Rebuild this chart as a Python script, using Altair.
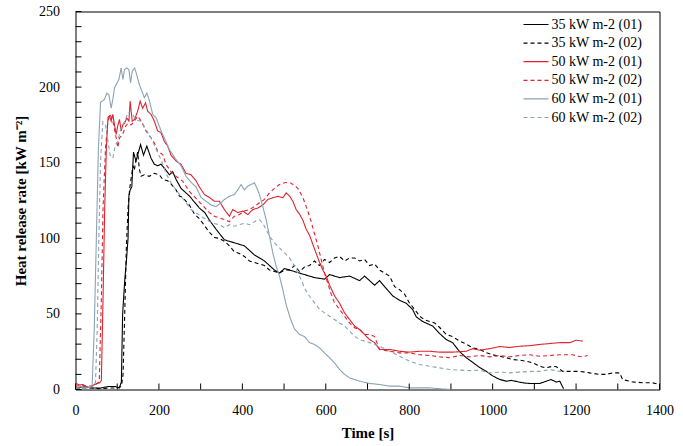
import altair as alt
import pandas as pd

FONT = "Liberation Serif"

# ---- 35 kW m-2, test 01 (time [s], HRR [kW m-2])
t_35_01 = [0, 20, 40, 60, 80,
           95, 105, 110, 113, 118,
           122, 126, 128, 131, 135,
           139, 145, 150, 156, 163,
           171, 181, 189, 197, 205,
           217, 225, 233, 241, 253,
           261, 273, 285, 297, 310,
           321, 337, 357, 381, 405,
           429, 453, 477, 489, 501,
           525, 549, 573, 597, 609,
           633, 657, 681, 693, 717,
           729, 741, 760, 777, 793,
           808, 817, 832, 856, 873,
           889, 904, 921, 937, 952,
           969, 985, 1000, 1017, 1033,
           1045, 1073, 1089, 1113, 1140,
           1153, 1161, 1170]
v_35_01 = [1, 2, 1, 1, 2,
           2, 1, 5, 50, 72,
           85, 100, 128, 132, 134,
           157, 151, 156, 162, 155,
           161, 153, 149, 148, 149,
           145, 142, 144, 139, 133,
           131, 128, 124, 120, 117,
           112, 106, 99, 97, 95,
           89, 85, 79, 77, 80,
           78, 76, 74, 73, 76,
           74, 75, 72, 75, 69,
           72, 68, 62, 59, 57,
           53, 48, 45, 42, 37,
           33, 31, 25, 21, 18,
           14.5, 12, 9, 6.6, 5.5,
           6, 4.4, 4, 4, 6.6,
           4.9, 5.5, 0.5]

# ---- 35 kW m-2, test 02
t_35_02 = [0, 20, 40, 60, 80,
           100, 110, 114, 118, 122,
           126, 130, 134, 138, 141,
           145, 149, 153, 157, 165,
           177, 189, 201, 209, 221,
           229, 241, 249, 257, 273,
           285, 297, 305, 321, 333,
           345, 357, 369, 381, 393,
           405, 417, 429, 441, 453,
           465, 477, 489, 501, 513,
           525, 537, 549, 561, 573,
           585, 597, 609, 621, 633,
           645, 657, 669, 681, 693,
           705, 717, 729, 741, 753,
           765, 777, 789, 801, 813,
           825, 837, 849, 861, 873,
           889, 904, 921, 937, 952,
           969, 985, 1000, 1017, 1033,
           1048, 1065, 1080, 1096, 1113,
           1128, 1144, 1153, 1168, 1192,
           1208, 1232, 1256, 1272, 1288,
           1304, 1312, 1336, 1360, 1384,
           1400]
v_35_02 = [0.5, 1, 1, 0.5, 1,
           1, 2, 10, 50, 95,
           120, 133, 141, 148, 145,
           152, 157, 146, 141, 142,
           141, 143, 142, 139, 138,
           136, 132, 128, 127, 122,
           116, 113, 110, 104, 100.5,
           100, 98, 95, 91, 90,
           88, 85, 84, 83, 82,
           79, 78, 77, 79, 79,
           82, 78, 81, 82, 85,
           82, 86, 84, 87, 88,
           85, 87, 87, 85, 86,
           82, 83, 79, 77, 75,
           68, 66, 63, 57, 53,
           48.5, 46, 45, 44, 41,
           36.4, 35, 32, 30, 27.6,
           26.5, 24.3, 23, 22, 21,
           19.8, 19.4, 18.7, 17.6, 15.4,
           14.3, 15.4, 15, 12, 12,
           12, 11, 10, 10, 11,
           11, 6.5, 5, 4.5, 4.4,
           3.3]

# ---- 50 kW m-2, test 01
t_50_01 = [0, 10, 18, 25, 34,
           40, 46, 52, 58, 62,
           66, 70, 74, 78, 81.5,
           85.5, 89.5, 93.5, 97.5, 101,
           105.5, 109.6, 113.4, 117.5, 123,
           128, 131, 136, 141.5, 149,
           155, 161, 168, 173, 181,
           189, 197, 205, 213, 221,
           229, 241, 253, 265, 277,
           289, 297, 309, 321, 333,
           345, 357, 369, 377, 389,
           401, 413, 425, 437, 449,
           461, 473, 485, 497, 505,
           513, 521, 529, 537, 545,
           553, 561, 569, 577, 585,
           593, 601, 609, 621, 633,
           645, 657, 669, 681, 693,
           705, 717, 729, 753, 777,
           801, 825, 849, 873, 904,
           937, 952, 969, 993, 1017,
           1041, 1065, 1089, 1113, 1137,
           1161, 1185, 1200, 1216]
v_50_01 = [4, 3, 3.3, 2, 1.3,
           2.5, 3.3, 4, 4.4, 6,
           60, 120, 160, 180, 181,
           177.5, 182, 175, 168.7, 174,
           178.6, 171, 175, 176, 179.6,
           177.5, 190.7, 177.5, 178.6, 184,
           190.7, 186, 189.6, 184, 182,
           177.5, 171, 170, 164, 161,
           155, 151, 149, 143, 142,
           138, 134, 129, 127, 124.5,
           124.5, 119, 114.6, 119, 117,
           118, 115.7, 119, 120, 122,
           125.7, 126.8, 127.8, 126.8, 130,
           128, 124.5, 119, 116, 112,
           106, 102, 96, 90, 84,
           79, 75, 69, 62, 57,
           50.7, 46.3, 42, 39.7, 36.4,
           33, 31, 26.5, 26.5, 25.3,
           24.7, 25.3, 25.3, 24.7, 24.7,
           25.3, 27, 26, 27, 28.4,
           27.8, 28.6, 29, 29.8, 30.4,
           31, 31, 32.6, 32]

# ---- 50 kW m-2, test 02
t_50_02 = [0, 15, 30, 45, 52,
           57, 62, 66, 72, 77.5,
           83, 89.5, 97.5, 101.5, 105.5,
           113, 120, 125, 133.5, 141.5,
           149, 157.5, 169, 181, 189,
           197, 209, 217, 229, 241,
           257, 273, 297, 321, 333,
           345, 357, 369, 381, 393,
           405, 417, 429, 441, 453,
           465, 477, 489, 501, 513,
           525, 533, 545, 557, 565,
           573, 581, 589, 597, 605,
           613, 621, 633, 645, 657,
           669, 681, 693, 705, 717,
           729, 753, 777, 801, 825,
           849, 873, 897, 921, 945,
           969, 993, 1017, 1041, 1065,
           1089, 1113, 1137, 1161, 1192,
           1204, 1216, 1228]
v_50_02 = [2, 3, 2, 3, 4,
           5, 60, 120, 160, 177.5,
           182, 177.5, 166.5, 160, 166.5,
           168.6, 174, 176, 175, 177.5,
           180.8, 177.5, 171, 166.5, 163,
           157.6, 155.4, 148.8, 144, 141,
           137.8, 131, 124, 117, 114.6,
           113.5, 112.4, 111, 114.6, 115.7,
           118, 119, 121, 123.5, 125.7,
           130, 133, 135.6, 136.7, 137,
           135, 133, 127, 118, 111,
           103, 95, 86, 77, 70,
           63, 57.3, 53, 48.5, 44,
           40.8, 39.7, 36.4, 36.4, 35,
           26.5, 25.3, 24.2, 24.2, 23,
           22.5, 21.6, 21, 22.5, 21.6,
           22.5, 21.6, 22.5, 21.6, 22.5,
           23, 22, 22.5, 23, 23,
           22, 21.6, 22.5]

# ---- 60 kW m-2, test 01
t_60_01 = [0, 15, 30, 40, 45,
           50, 55, 60, 65.5, 69.5,
           75, 80, 85.5, 89.5, 93.5,
           97.5, 104, 109.5, 113.5, 117.5,
           123, 128, 132, 136, 141.5,
           145.5, 153, 161, 165, 171,
           177.5, 185, 193.5, 201, 209,
           217, 225, 233, 241, 253,
           265, 277, 289, 301, 313,
           325, 337, 349, 357, 369,
           381, 389, 397, 405, 413,
           421, 429, 435, 441, 449,
           457, 465, 473, 481, 489,
           497, 505, 515, 525, 537,
           549, 561, 573, 585, 597,
           609, 621, 633, 645, 657,
           669, 681, 705, 729, 753,
           777, 801, 825, 849, 873,
           900]
v_60_01 = [1, 2, 1, 3, 40,
           100, 160, 190, 191, 191.8,
           196, 195, 186, 192, 199.5,
           201.7, 205, 212.7, 205, 211.6,
           212.7, 211.6, 202.8, 210.5, 212.7,
           209.4, 201.7, 196, 193, 196,
           190.7, 182, 179.6, 174, 168.6,
           164, 158.7, 155.4, 152, 148,
           141, 137, 134, 127, 124.5,
           122, 121, 123.5, 125.7, 127.8,
           129, 132, 135.6, 132, 134.5,
           135.6, 136.7, 133, 129, 121,
           112.4, 101.4, 90.4, 81.6, 75,
           66, 56, 47, 40, 36.4,
           35, 31, 29.8, 27.6, 24.2,
           21, 17.6, 13.2, 10, 7.7,
           6.6, 5.5, 4, 3.3, 2.2,
           2.2, 1.1, 1.1, 1.1, 0.5,
           0]

# ---- 60 kW m-2, test 02
t_60_02 = [0, 15, 30, 42, 48,
           52, 56, 60, 65.5, 72,
           77.5, 83, 89.5, 96, 101.5,
           107, 113.5, 120, 125.5, 133.5,
           141.5, 149, 157.5, 169, 181,
           193.5, 205, 217, 229, 241,
           253, 265, 277, 289, 301,
           313, 329, 345, 357, 369,
           381, 393, 405, 417, 429,
           441, 449, 457, 465, 477,
           489, 501, 513, 525, 533,
           541, 549, 561, 573, 585,
           597, 609, 621, 633, 645,
           657, 669, 681, 705, 729,
           753, 777, 801, 825, 849,
           873, 897, 921, 945, 969,
           993, 1017, 1041, 1065, 1089,
           1113, 1137, 1161, 1173]
v_60_02 = [1, 0.5, 1, 2, 5,
           40, 100, 150, 177, 175,
           165, 155, 153, 162, 164,
           171, 175, 178.6, 183, 184,
           179.6, 178, 177.5, 172, 166.5,
           158.7, 152, 143, 136.7, 132,
           127.8, 123.5, 119, 116.8, 114.6,
           112.4, 110, 109, 107, 109,
           108, 109, 110, 109, 111,
           112.4, 110, 105.8, 101.4, 97,
           93.7, 90.4, 87, 81.6, 77,
           72.8, 67, 61.7, 57.3, 53,
           50.7, 48.5, 46.3, 44, 42,
           38.6, 35.3, 33, 31, 28.6,
           25.3, 22, 18.7, 16.5, 15.4,
           14.3, 13.2, 12.8, 12.5, 12.8,
           11, 11.5, 11, 11.5, 12,
           12, 13.2, 12, 12]

series_names = ["35 kW m-2 (01)", "35 kW m-2 (02)",
                "50 kW m-2 (01)", "50 kW m-2 (02)",
                "60 kW m-2 (01)", "60 kW m-2 (02)"]
series_colors = ["#000000", "#000000", "#DC2430", "#DC2430", "#8BA3B5", "#8BA3B5"]
series_dashes = [[1, 0], [4, 3], [1, 0], [4, 3], [1, 0], [4, 3]]

x_label_values = [0, 200, 400, 600, 800, 1000, 1200, 1400]
y_label_values = [0, 50, 100, 150, 200, 250]
x_tick_values = list(range(0, 1401, 100))
y_tick_values = list(range(0, 251, 10))

series_data = [(t_35_01, v_35_01), (t_35_02, v_35_02), (t_50_01, v_50_01),
               (t_50_02, v_50_02), (t_60_01, v_60_01), (t_60_02, v_60_02)]

rows = []
for name, (ts, vs) in zip(series_names, series_data):
    assert len(ts) == len(vs), name
    for i, (t, v) in enumerate(zip(ts, vs)):
        rows.append({"series": name, "time": t, "hrr": v, "order": i})
df = pd.DataFrame(rows)

W, H = 584, 378
x_scale = alt.Scale(domain=[0, 1400], nice=False, zero=False)
y_scale = alt.Scale(domain=[0, 250], nice=False)

x_axis = alt.Axis(values=x_label_values, format="d", title="Time [s]", ticks=False,
                  domain=False, grid=False, labelFlush=False, labelOverlap=False,
                  labelFont=FONT, labelFontSize=14, labelColor="black", labelPadding=14,
                  titleFont=FONT, titleFontSize=15, titleFontWeight="bold",
                  titleColor="black", titlePadding=8)
y_axis = alt.Axis(values=y_label_values, format="d", title="Heat release rate [kW m⁻²]",
                  ticks=False, domain=False, grid=False, labelOverlap=False,
                  labelFont=FONT, labelFontSize=14, labelColor="black", labelPadding=16,
                  titleFont=FONT, titleFontSize=15, titleFontWeight="bold",
                  titleColor="black", titlePadding=10)

legend = alt.Legend(title=None, orient="none", legendX=447, legendY=5.5, padding=0,
                    symbolType="stroke", symbolSize=625, symbolStrokeWidth=1.2,
                    clipHeight=15, labelFont=FONT, labelFontSize=14, labelColor="black",
                    labelOffset=2, rowPadding=3.6, labelLimit=250)

lines = alt.Chart(df).mark_line(strokeWidth=1.1).encode(
    x=alt.X("time:Q", scale=x_scale, axis=x_axis),
    y=alt.Y("hrr:Q", scale=y_scale, axis=y_axis),
    color=alt.Color("series:N", scale=alt.Scale(domain=series_names, range=series_colors),
                    legend=legend),
    strokeDash=alt.StrokeDash("series:N",
                              scale=alt.Scale(domain=series_names, range=series_dashes),
                              legend=legend),
    order="order:Q",
)

# inward minor ticks on the y axis
y_ticks = alt.Chart(pd.DataFrame({"hrr": y_tick_values})).mark_rule(
    color="black", strokeWidth=1).encode(
    x=alt.value(0), x2=alt.value(6),
    y=alt.Y("hrr:Q", scale=y_scale, axis=y_axis),
)

# inward ticks on the x axis
x_ticks = alt.Chart(pd.DataFrame({"time": x_tick_values})).mark_rule(
    color="black", strokeWidth=1).encode(
    x=alt.X("time:Q", scale=x_scale, axis=x_axis),
    y=alt.value(H), y2=alt.value(H - 6),
)

chart = alt.layer(lines, y_ticks, x_ticks).properties(
    width=W, height=H,
    autosize=alt.AutoSizeParams(type="none"),
    padding={"left": 75.5, "top": 11.5, "right": 23.5, "bottom": 56.5},
).configure_view(stroke="black", strokeWidth=1)

chart.save("out.html", embed_options={"renderer": "svg", "actions": False})
